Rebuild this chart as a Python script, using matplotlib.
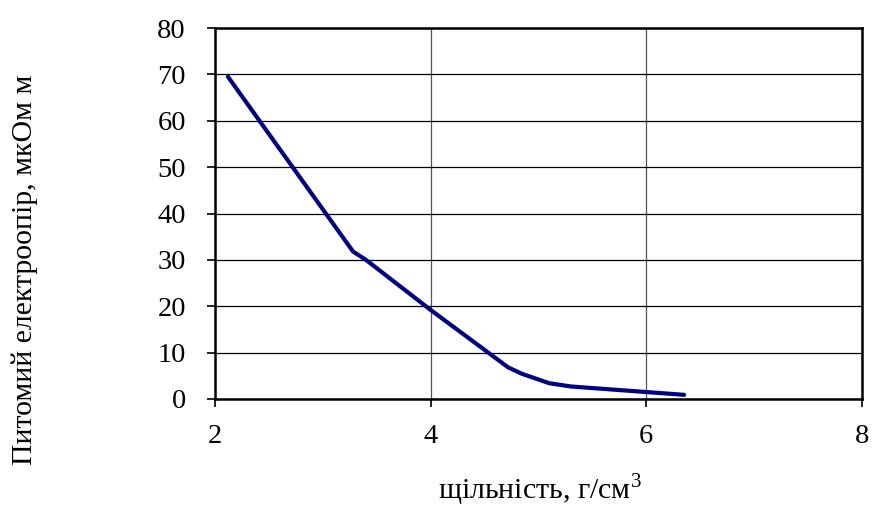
import matplotlib
matplotlib.use("Agg")
import matplotlib.pyplot as plt

plt.rcParams['font.family'] = ['Liberation Serif', 'DejaVu Serif']
plt.rcParams['mathtext.fontset'] = 'custom'
plt.rcParams['mathtext.rm'] = 'Liberation Serif'

# density, g/cm3  vs  resistivity, uOhm m
density = [2.12, 3.28, 3.4, 4.0, 4.72, 4.85, 5.1, 5.3, 6.0, 6.35]
resist = [69.5, 31.8, 30.0, 19.2, 6.8, 5.4, 3.4, 2.7, 1.5, 0.9]

x_ticks = [2, 4, 6, 8]
y_ticks = [0, 10, 20, 30, 40, 50, 60, 70, 80]

fig = plt.figure(figsize=(8.72, 5.15), dpi=100)
ax = fig.add_axes([215/872, 1-399/515, (862-215)/872, (399-28)/515])

ax.plot(density, resist, color='#000080', linewidth=3.0, solid_capstyle='round',
        solid_joinstyle='round', zorder=3)

ax.set_xlim(2, 8)
ax.set_ylim(0, 80)
ax.set_xticks(x_ticks)
ax.set_yticks(y_ticks)
ax.grid(True, axis='y', color='black', linewidth=0.9)
ax.grid(True, axis='x', color='#555555', linewidth=0.9)

for s in ax.spines.values():
    s.set_linewidth(1.8)
    s.set_color('black')

ax.tick_params(axis='both', direction='out', length=6, width=1.2, labelsize=20.5)
ax.tick_params(axis='y', pad=15)
ax.tick_params(axis='x', pad=12)

fig.text(25/872, 1-270/515, 'Питомий електроопір, мкОм м', rotation=90,
         ha='center', va='center', fontsize=21.5)
fig.text(540/872, 1-490/515, r'щільність, г/см$^3$', ha='center', va='center', fontsize=21.5)

fig.savefig('out.png', dpi=100)
